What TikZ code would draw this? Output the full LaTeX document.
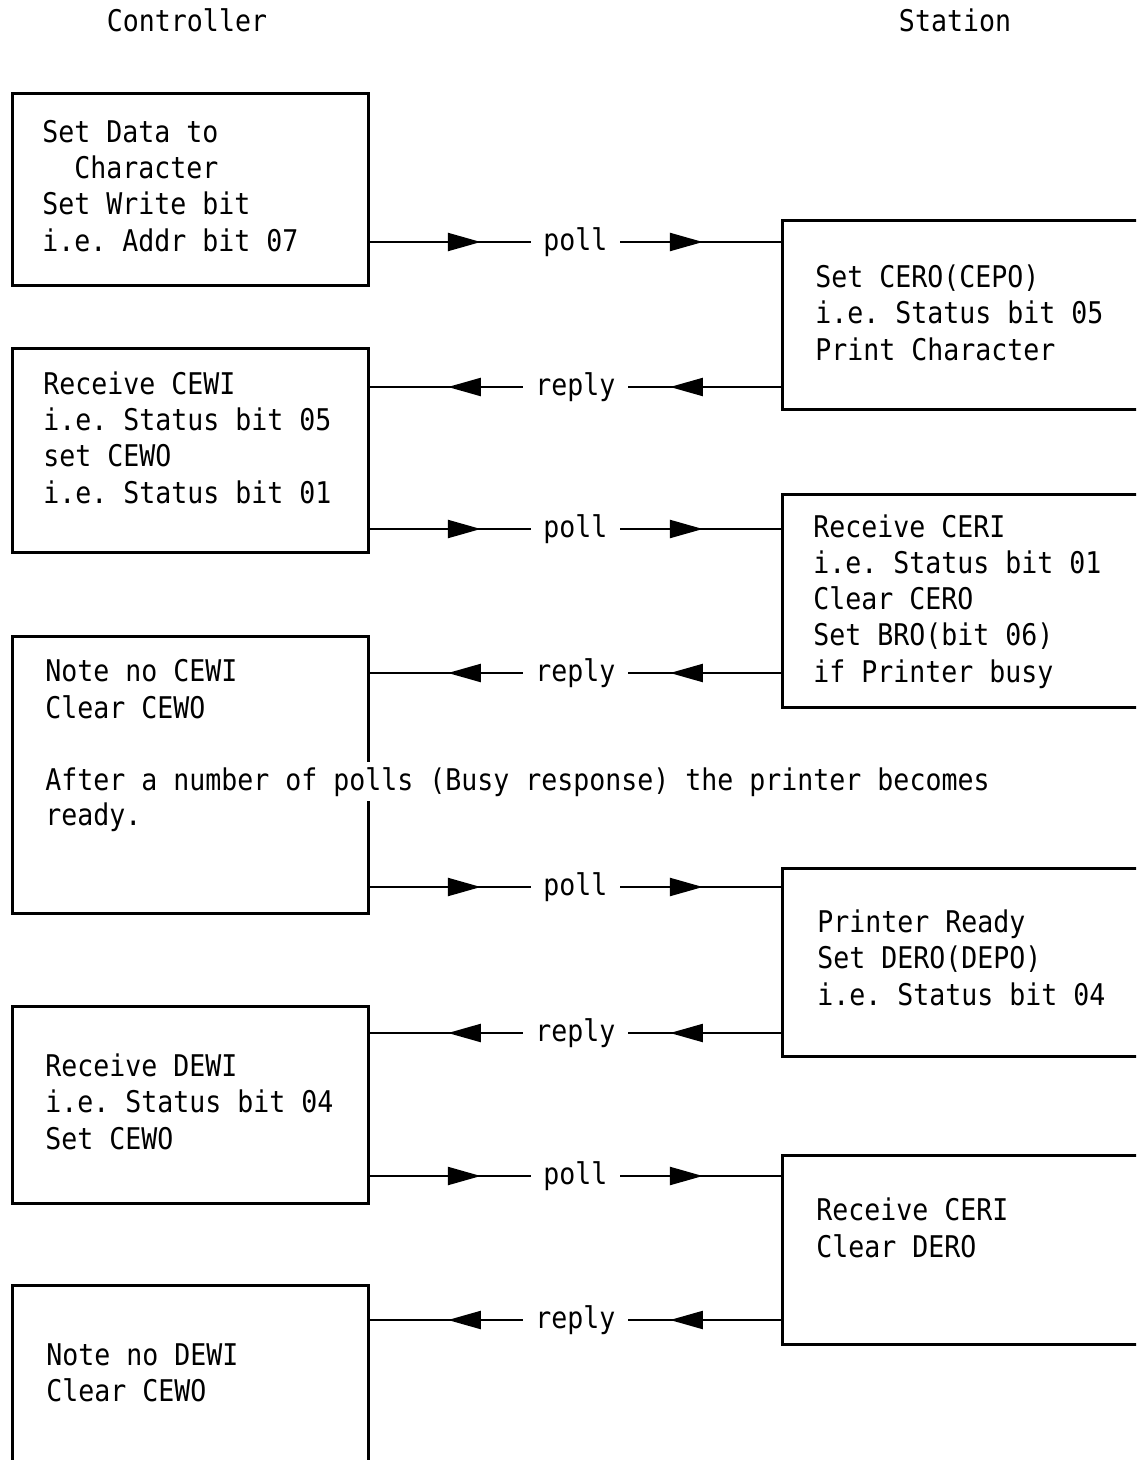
\documentclass[tikz,border=0pt]{standalone}
\usepackage{fontspec}
\setmonofont{DejaVu Sans Mono}[FakeStretch=0.89]
\usepackage{tikz}
\usetikzlibrary{arrows.meta,decorations.markings,positioning}
\newcommand{\scanfont}{\ttfamily\fontsize{17pt}{20.5pt}\selectfont}
\tikzset{
  box/.style   = {rectangle, draw, line width=1.6pt, inner sep=0pt, anchor=north west},
  lbox/.style  = {box, minimum width=7.12cm},
  rbox/.style  = {box, minimum width=8cm},
  % base of a multi-line text is its last line
  txt/.style   = {align=left, anchor=base west, inner sep=0pt, font=\scanfont},
  title/.style = {anchor=base, inner sep=0pt, font=\scanfont},
  lbl/.style   = {fill=white, inner xsep=0.25cm, inner ysep=1pt, font=\scanfont},
  % arrow heads sit part way along the line, not at its end
  msg/.style   = {line width=1.3pt, postaction={decorate},
                  decoration={markings,
                    mark=at position 0.27 with {\arrow{Triangle[length=0.66cm,width=0.36cm]}},
                    mark=at position 0.81 with {\arrow{Triangle[length=0.66cm,width=0.36cm]}}}},
}

\begin{document}
\begin{tikzpicture}[x=0.02cm, y=-0.02cm]
\useasboundingbox (0,0) rectangle (1136,1460);
\clip (0,0) rectangle (1136,1460);

\node[title] (ctl) at (187,32) {Controller};
\node[title] (stn) at (955,32) {Station};

% controller side
\node[lbox, minimum height=3.84cm] (L1) at (11,92) {};
\node[lbox, minimum height=4.08cm] (L2) at (11,347) {};
\node[lbox, minimum height=5.54cm] (L3) at (11,635) {};
\node[lbox, minimum height=3.94cm] (L4) at (11,1005) {};
\node[lbox, minimum height=4.40cm] (L5) at (11,1284) {};

% station side
\node[rbox, minimum height=3.78cm] (R1) at (781,219) {};
\node[rbox, minimum height=4.26cm] (R2) at (781,493) {};
\node[rbox, minimum height=3.76cm] (R3) at (781,867) {};
\node[rbox, minimum height=3.78cm] (R4) at (781,1154) {};

\node[txt] (t1) at ([shift={(31,159)}]L1.north west)
  {Set Data to\\\phantom{Se}Character\\Set Write bit\\i.e. Addr bit 07};
\node[txt] (t2) at ([shift={(32,156)}]L2.north west)
  {Receive CEWI\\i.e. Status bit 05\\set CEWO\\i.e. Status bit 01};
\node[txt] (t3) at ([shift={(34,83)}]L3.north west)
  {Note no CEWI\\Clear CEWO};
\node[txt, fill=white, inner ysep=3pt] (t3b) at ([shift={(34,155)}]L3.north west)
  {After a number of polls (Busy response) the printer becomes};
\node[txt] (t3c) at ([shift={(0,35)}]t3b.base west) {ready.};
\node[txt] (t4) at ([shift={(34,144)}]L4.north west)
  {Receive DEWI\\i.e. Status bit 04\\Set CEWO};
\node[txt] (t5) at ([shift={(35,117)}]L5.north west)
  {Note no DEWI\\Clear CEWO};

\node[txt] (s1) at ([shift={(34,141)}]R1.north west)
  {Set CERO(CEPO)\\i.e. Status bit 05\\Print Character};
\node[txt] (s2) at ([shift={(32,189)}]R2.north west)
  {Receive CERI\\i.e. Status bit 01\\Clear CERO\\Set BRO(bit 06)\\if Printer busy};
\node[txt] (s3) at ([shift={(36,138)}]R3.north west)
  {Printer Ready\\Set DERO(DEPO)\\i.e. Status bit 04};
\node[txt] (s4) at ([shift={(35,103)}]R4.north west)
  {Receive CERI\\Clear DERO};

\draw[msg] (L1.east |- 0,242) -- node[lbl]{poll} (R1.west |- 0,242);
\draw[msg] (R1.west |- 0,387) -- node[lbl]{reply} (L2.east |- 0,387);
\draw[msg] (L2.east |- 0,529) -- node[lbl]{poll} (R2.west |- 0,529);
\draw[msg] (R2.west |- 0,673) -- node[lbl]{reply} (L3.east |- 0,673);
\draw[msg] (L3.east |- 0,887) -- node[lbl]{poll} (R3.west |- 0,887);
\draw[msg] (R3.west |- 0,1033) -- node[lbl]{reply} (L4.east |- 0,1033);
\draw[msg] (L4.east |- 0,1176) -- node[lbl]{poll} (R4.west |- 0,1176);
\draw[msg] (R4.west |- 0,1320) -- node[lbl]{reply} (L5.east |- 0,1320);

\end{tikzpicture}
\end{document}
